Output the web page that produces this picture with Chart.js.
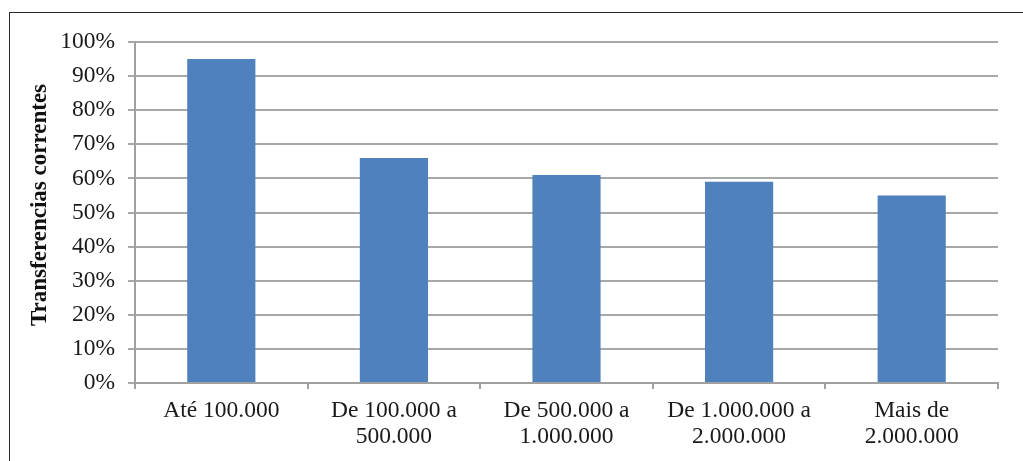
<!DOCTYPE html>
<html>
<head>
<meta charset="utf-8">
<script src="https://cdn.jsdelivr.net/npm/chart.js@4/dist/chart.umd.min.js"></script>
<style>
  html, body { margin: 0; padding: 0; background: #fff; overflow: hidden; }
  #frame { position: absolute; left: 9px; top: 12px; width: 1100px; height: 500px; border: 1px solid #2a2a2a; box-sizing: border-box; }
  #wrap { position: absolute; left: 0; top: 0; width: 1023px; height: 461px; }
</style>
</head>
<body>
<div id="frame"></div>
<div id="wrap"><canvas id="c" width="1023" height="461"></canvas></div>
<script>
// Faixas de população dos municípios
const categories = [
  ['Até 100.000'],
  ['De 100.000 a', '500.000'],
  ['De 500.000 a', '1.000.000'],
  ['De 1.000.000 a', '2.000.000'],
  ['Mais de', '2.000.000']
];
// Participação das transferências correntes (%)
const shares = [95, 66, 61, 59, 55];
const yTicks = [0, 10, 20, 30, 40, 50, 60, 70, 80, 90, 100];
const axisTitle = 'Transferencias correntes';

const serif = "'Liberation Serif', 'Times New Roman', serif";

// Draws the rotated y-axis title, centred slightly above the plot's middle
const yTitlePlugin = {
  id: 'yTitle',
  afterDraw(chart) {
    const ctx = chart.ctx;
    ctx.save();
    ctx.font = "bold 23px " + serif;
    ctx.fillStyle = '#111';
    ctx.textAlign = 'center';
    ctx.textBaseline = 'middle';
    ctx.translate(40, 205);
    ctx.rotate(-Math.PI / 2);
    ctx.fillText(axisTitle, 0, 0);
    ctx.restore();
  }
};

new Chart(document.getElementById('c'), {
  type: 'bar',
  data: {
    labels: categories,
    datasets: [{
      data: shares,
      backgroundColor: '#4f81bd',
      borderWidth: 0,
      categoryPercentage: 1,
      barPercentage: 0.395
    }]
  },
  plugins: [yTitlePlugin],
  options: {
    responsive: false,
    animation: false,
    layout: { padding: { left: 0, top: 42, right: 25, bottom: 0 } },
    plugins: { legend: { display: false }, tooltip: { enabled: false } },
    scales: {
      x: {
        grid: { drawOnChartArea: false, drawTicks: true, tickLength: 6, color: '#a0a0a0', lineWidth: 2 },
        border: { color: '#a0a0a0', width: 2 },
        ticks: { color: '#1a1a1a', font: { family: serif, size: 23.5, lineHeight: 1.1 }, padding: 9, maxRotation: 0, autoSkip: false },
        afterFit: s => { s.height = 78; }
      },
      y: {
        min: 0, max: 100,
        afterBuildTicks: s => { s.ticks = yTicks.map(v => ({ value: v })); },
        grid: { color: '#a8a8a8', lineWidth: 2, tickLength: 7 },
        border: { color: '#a0a0a0', width: 2 },
        ticks: { color: '#1a1a1a', font: { family: serif, size: 23.5 }, padding: 13, callback: v => v + '%' },
        afterFit: s => { s.width = 135; }
      }
    }
  }
});
</script>
</body>
</html>
